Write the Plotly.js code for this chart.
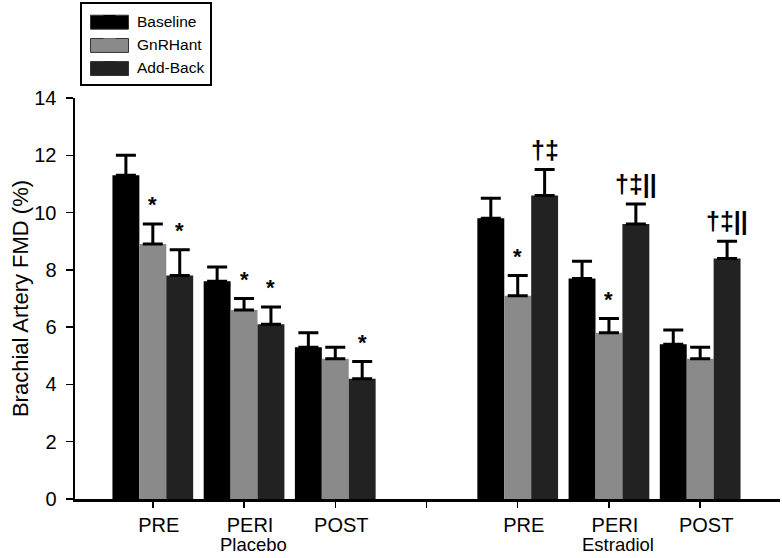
<!DOCTYPE html>
<html>
<head>
<meta charset="utf-8">
<script src="https://cdn.plot.ly/plotly-3.0.1.min.js"></script>
<style>html,body{margin:0;padding:0;background:#fff}#chart{width:782px;height:558px}</style>
</head>
<body>
<div id="chart"></div>
<script>
// ---- data ----
const positions = [1, 2, 3, 5, 6, 7];
const tickPositions = [1, 2, 3, 4, 5, 6, 7];
const tickLabels = ["PRE", "PERI", "POST", "", "PRE", "PERI", "POST"];
const groupNames = ["Placebo", "Estradiol"];
const groupCenters = [2, 6];
const seriesNames = ["Baseline", "GnRHant", "Add-Back"];
const baseline = [11.3, 7.6, 5.3, 9.8, 7.7, 5.4];
const baselineErr = [0.7, 0.5, 0.5, 0.7, 0.6, 0.5];
const gnrhant = [8.9, 6.6, 4.9, 7.1, 5.8, 4.9];
const gnrhantErr = [0.7, 0.4, 0.4, 0.7, 0.5, 0.4];
const addback = [7.8, 6.1, 4.2, 10.6, 9.6, 8.4];
const addbackErr = [0.9, 0.6, 0.6, 0.9, 0.7, 0.6];
const baselineMarks = ["", "", "", "", "", ""];
const gnrhantMarks = ["*", "*", "", "*", "*", ""];
const addbackMarks = ["*", "*", "*", "\u2020\u2021", "\u2020\u2021||", "\u2020\u2021||"];
const yTicks = [0, 2, 4, 6, 8, 10, 12, 14];

// ---- chart ----
const W = 782, H = 558;
const M = {l: 75, r: 2, t: 96, b: 59};
const colors = ["#000000", "#8a8a8a", "#222222"];
const values = [baseline, gnrhant, addback];
const errs = [baselineErr, gnrhantErr, addbackErr];
const marks = [baselineMarks, gnrhantMarks, addbackMarks];
const bargap = 0.115;
const barW = (1 - bargap) / 3;
const FONT = "Liberation Sans, Arial, sans-serif";

const traces = seriesNames.map((name, i) => ({
  type: "bar",
  name: name,
  x: positions,
  y: values[i],
  marker: {color: colors[i], line: {width: 0}},
  error_y: {type: "data", symmetric: false, array: errs[i], arrayminus: errs[i].map(() => 0),
            color: "#000", thickness: 3, width: 10, visible: true}
}));

const annotations = [];
for (let s = 0; s < 3; s++) {
  for (let k = 0; k < positions.length; k++) {
    const t = marks[s][k];
    if (!t) continue;
    const star = t === "*";
    annotations.push({
      x: positions[k] + (s - 1) * barW,
      y: values[s][k] + errs[s][k],
      xref: "x", yref: "y",
      text: "<b>" + t + "</b>",
      showarrow: false,
      xanchor: "center", yanchor: "bottom",
      yshift: star ? 5 : 4,
      font: {family: FONT, size: star ? 22 : 25, color: "#000"}
    });
  }
}
groupNames.forEach((g, i) => {
  annotations.push({
    x: groupCenters[i], y: 0, xref: "x", yref: "paper",
    text: g, showarrow: false, xanchor: "center", yanchor: "top",
    xshift: 9, yshift: -34, borderpad: 0,
    font: {family: FONT, size: 18.5, color: "#000"}
  });
});

// wide legend swatches laid under the (transparent) native legend symbols
const plotW = W - M.l - M.r, plotH = H - M.t - M.b;
const px = v => (v - M.l) / plotW;
const py = v => (H - M.b - v) / plotH;
const rowCenters = [19.8, 43.2, 66.4];
const shapes = seriesNames.map((n, i) => ({
  type: "rect", xref: "paper", yref: "paper", layer: "above",
  x0: px(90.5), x1: px(128.5), y0: py(rowCenters[i] - 7), y1: py(rowCenters[i] + 7),
  fillcolor: colors[i], line: {color: "#333", width: 1}
}));

const layout = {
  width: W, height: H,
  margin: M,
  paper_bgcolor: "#fff", plot_bgcolor: "#fff",
  barmode: "group", bargap: bargap, bargroupgap: 0,
  font: {family: FONT, color: "#000"},
  showlegend: true,
  legend: {x: px(80), y: py(0), xanchor: "left", yanchor: "top",
           bordercolor: "#000", borderwidth: 2, bgcolor: "rgba(255,255,255,0)",
           font: {family: FONT, size: 15.5, color: "#000"},
           tracegroupgap: 0, itemwidth: 45},
  xaxis: {range: [0.147, 7.875], tickmode: "array", tickvals: tickPositions, ticktext: tickLabels,
          showline: true, linecolor: "#000", linewidth: 2.5, ticks: "outside", ticklen: 6,
          tickwidth: 1.5, tickcolor: "#000", showgrid: false, zeroline: false,
          ticklabelshift: 6, ticklabelstandoff: 0,
          tickfont: {family: FONT, size: 20, color: "#000"}, fixedrange: true},
  yaxis: {range: [0, 14], tickmode: "array", tickvals: yTicks,
          showline: true, linecolor: "#000", linewidth: 2.5, ticks: "outside", ticklen: 7,
          tickwidth: 1.5, tickcolor: "#000", showgrid: false, zeroline: false,
          ticklabelstandoff: 5,
          tickfont: {family: FONT, size: 20, color: "#000"},
          title: {text: "Brachial Artery FMD (%)", font: {family: FONT, size: 22, color: "#000"}, standoff: 0},
          fixedrange: true},
  shapes: shapes,
  annotations: annotations
};

Plotly.newPlot("chart", traces, layout, {displayModeBar: false, staticPlot: true});
</script>
</body>
</html>
